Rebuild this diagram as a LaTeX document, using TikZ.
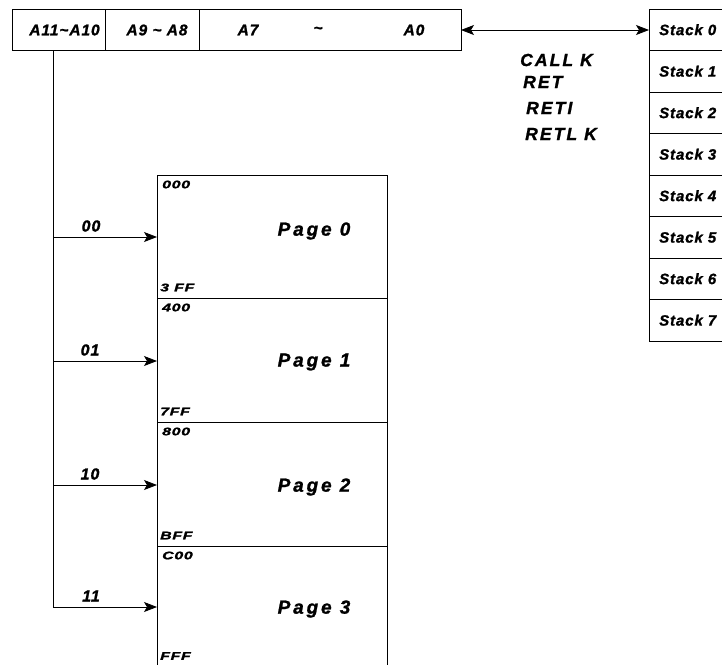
\documentclass[tikz,border=0pt]{standalone}
\usepackage{fontspec}
\setmainfont{Liberation Sans}
\usetikzlibrary{arrows.meta}
\newfontfamily\labfont{Liberation Sans}[LetterSpace=6,BoldItalicFeatures={FakeBold=1.2}]
\newfontfamily\instfont{Liberation Sans}[LetterSpace=12,BoldItalicFeatures={FakeBold=1.2}]
\newfontfamily\widefont{Liberation Sans}[LetterSpace=15,BoldItalicFeatures={FakeBold=1.2}]
\newfontfamily\smallfont{Liberation Sans}[FakeStretch=1.45,LetterSpace=6,BoldItalicFeatures={FakeBold=1.5}]
\tikzset{
  x=1pt, y=-1pt,
  box/.style={draw=black, line width=0.8pt},
  bartxt/.style={font=\labfont\bfseries\itshape\fontsize{15.5}{15.5}\selectfont, inner sep=0pt},
  stacktxt/.style={font=\labfont\bfseries\itshape\fontsize{15}{15}\selectfont, inner sep=0pt, anchor=west},
  insttxt/.style={font=\instfont\bfseries\itshape\fontsize{17.5}{17.5}\selectfont, inner sep=0pt, anchor=west},
  pagetxt/.style={font=\widefont\bfseries\itshape\fontsize{19}{19}\selectfont, inner sep=0pt},
  addrtxt/.style={font=\smallfont\bfseries\itshape\fontsize{11}{11}\selectfont, inner sep=0pt, anchor=west},
  seltxt/.style={font=\labfont\bfseries\itshape\fontsize{16}{16}\selectfont, inner sep=0pt},
  conn/.style={line width=0.8pt, -{Stealth[length=13pt,width=10pt,inset=3pt]}},
  dconn/.style={line width=0.8pt, {Stealth[length=13pt,width=10pt,inset=3pt]}-{Stealth[length=13pt,width=10pt,inset=3pt]}},
}
\begin{document}
\begin{tikzpicture}
\useasboundingbox (0,0) rectangle (722,664);
% address register
\draw[box] (12,9) rectangle (461,50);
\draw[box] (105,9) -- (105,50);
\draw[box] (199.5,9) -- (199.5,50);
\node[bartxt] (a11) at (64.5,30) {A11\char`~A10};
\node[bartxt] (a9) at (157,30) {A9 \char`~\ A8};
\node[bartxt] (a7) at (248,30) {A7};
\node[bartxt] (til) at (318,30) {\char`~};
\node[bartxt] (a0) at (414,30) {A0};
\coordinate (regR) at (461,30);
\coordinate (regsel) at (53,50);
% stack
\foreach \i in {0,...,7}{
  \pgfmathsetmacro\yt{9+41.5*\i}
  \pgfmathsetmacro\yb{9+41.5*(\i+1)}
  \draw[box] (649,\yt) rectangle (740,\yb);
  \node[stacktxt] (s\i) at (659,{(\yt+\yb)/2}) {Stack \i};
}
\coordinate (stkL) at (649,30);
\draw[dconn] (regR) -- (stkL);
% instructions
\node[insttxt] (call) at (520,60) {CALL K};
\node[insttxt] (ret) at (523,82) {RET};
\node[insttxt] (reti) at (526,108) {RETI};
\node[insttxt] (retl) at (525,134) {RETL K};
% pages
\foreach \i/\top/\bot/\ta/\ba/\yy/\ly/\by in {0/175/298/000/3 FF/237/231/287.5,1/298/422/400/7FF/361/362/411.5,2/422/546/800/BFF/485/487/535.5,3/546/670/C00/FFF/607/609/656}{
  \draw[box] (157,\top) rectangle (387.5,\bot);
  \node[pagetxt] (p\i) at (314,\ly) {Page \i};
  \node[addrtxt] (t\i) at (162,\top+9.5) {\ta};
  \node[addrtxt] (b\i) at (160,\by) {\ba};
  \coordinate (in\i) at (157,\yy);
  \coordinate (out\i) at (53,\yy);
}
\draw[line width=0.8pt] (regsel) -- (out3);
\draw[conn] (out0) -- (in0);
\draw[conn] (out1) -- (in1);
\draw[conn] (out2) -- (in2);
\draw[conn] (out3) -- (in3);
\node[seltxt] (l0) at (91,226) {00};
\node[seltxt] (l1) at (90,350) {01};
\node[seltxt] (l2) at (90,474) {10};
\node[seltxt] (l3) at (91,596) {11};
\end{tikzpicture}
\end{document}
